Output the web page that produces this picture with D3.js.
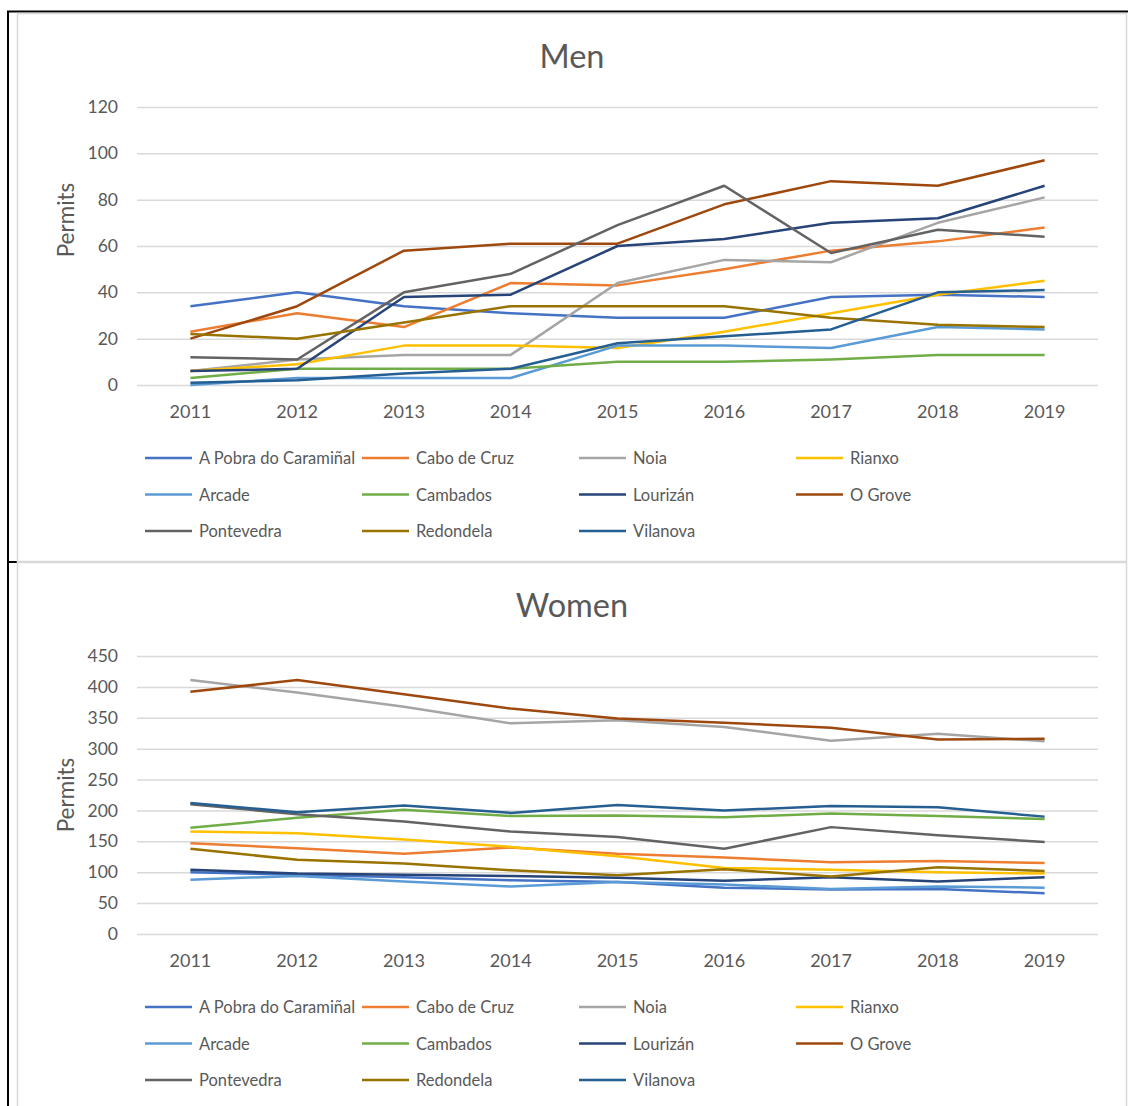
<!DOCTYPE html>
<html>
<head>
<meta charset="utf-8">
<script src="https://cdn.jsdelivr.net/npm/d3@7"></script>
<style>
  body { margin: 0; background: #fff; }
  svg { display: block; font-family: Lato, "Open Sans", sans-serif; }
</style>
</head>
<body>
<svg id="chart" width="1128" height="1106"></svg>
<script>
// data
const years = ['2011', '2012', '2013', '2014', '2015', '2016', '2017', '2018', '2019'];
const seriesNames = ['A Pobra do Caramiñal', 'Cabo de Cruz', 'Noia', 'Rianxo', 'Arcade', 'Cambados',
  'Lourizán', 'O Grove', 'Pontevedra', 'Redondela', 'Vilanova'];
const menTicks = [0, 20, 40, 60, 80, 100, 120];
const womenTicks = [0, 50, 100, 150, 200, 250, 300, 350, 400, 450];

// one row per series, same order as seriesNames
const menPermits = [
  [34, 40, 34, 31, 29, 29, 38, 39, 38],
  [23, 31, 25, 44, 43, 50, 58, 62, 68],
  [6, 11, 13, 13, 44, 54, 53, 70, 81],
  [6, 9, 17, 17, 16, 23, 31, 39, 45],
  [0, 3, 3, 3, 17, 17, 16, 25, 24],
  [3, 7, 7, 7, 10, 10, 11, 13, 13],
  [6, 7, 38, 39, 60, 63, 70, 72, 86],
  [20, 34, 58, 61, 61, 78, 88, 86, 97],
  [12, 11, 40, 48, 69, 86, 57, 67, 64],
  [22, 20, 27, 34, 34, 34, 29, 26, 25],
  [1, 2, 5, 7, 18, 21, 24, 40, 41]
];
const womenPermits = [
  [100, 96, 92, 87, 84, 75, 72, 73, 66],
  [147, 139, 130, 140, 130, 124, 116, 118, 115],
  [411, 391, 368, 341, 346, 335, 313, 324, 312],
  [166, 163, 153, 141, 126, 107, 104, 100, 98],
  [88, 94, 85, 77, 84, 80, 73, 77, 75],
  [172, 188, 201, 191, 192, 189, 195, 191, 186],
  [104, 98, 96, 94, 91, 86, 92, 85, 92],
  [392, 411, 388, 365, 349, 342, 334, 315, 316],
  [210, 194, 182, 166, 157, 138, 173, 160, 149],
  [138, 120, 114, 103, 95, 105, 93, 108, 102],
  [212, 197, 208, 196, 209, 200, 207, 205, 190]
];

const palette = ['#4472C4', '#ED7D31', '#A5A5A5', '#FFC000', '#5B9BD5', '#70AD47',
  '#264478', '#9E480E', '#636363', '#997300', '#255E91'];

const textColor = '#595959';
const gridColor = '#d9d9d9';

const svg = d3.select('#chart');

// outer table borders
svg.append('line').attr('x1', 8).attr('x2', 8).attr('y1', 11).attr('y2', 1106)
  .attr('stroke', '#000').attr('stroke-width', 2);
svg.append('line').attr('x1', 7).attr('x2', 1128).attr('y1', 11.5).attr('y2', 11.5)
  .attr('stroke', '#000').attr('stroke-width', 2);
svg.append('line').attr('x1', 8).attr('x2', 17).attr('y1', 562).attr('y2', 562)
  .attr('stroke', '#000').attr('stroke-width', 2);

function drawChart(top, height, title, ticks, values, labelY) {
  const g = svg.append('g').attr('transform', 'translate(0,' + top + ')');

  g.append('rect')
    .attr('x', 17.5).attr('y', 0.5)
    .attr('width', 1109).attr('height', height)
    .attr('fill', '#fff').attr('stroke', gridColor).attr('stroke-width', 1.5);

  const x = d3.scaleBand().domain(years).range([137, 1098]);
  const y = d3.scaleLinear().domain([0, ticks[ticks.length - 1]]).range([372, 94]);

  g.append('text')
    .attr('x', 572).attr('y', 42)
    .attr('text-anchor', 'middle').attr('dominant-baseline', 'central')
    .attr('font-size', 32.5).attr('fill', textColor)
    .text(title);

  const yAxis = g.append('g')
    .attr('transform', 'translate(137,0)')
    .call(d3.axisLeft(y).tickValues(ticks).tickSize(-961).tickPadding(19));
  yAxis.select('.domain').remove();
  yAxis.selectAll('line').attr('stroke', gridColor).attr('stroke-width', 1.5);
  yAxis.selectAll('text').attr('font-size', 17.5).attr('fill', textColor)
    .attr('font-family', 'Lato, sans-serif');

  const xAxis = g.append('g')
    .attr('transform', 'translate(0,' + y(0) + ')')
    .call(d3.axisBottom(x).tickSize(0).tickPadding(20));
  xAxis.select('.domain').remove();
  xAxis.selectAll('text').attr('font-size', 18).attr('fill', textColor)
    .attr('font-family', 'Lato, sans-serif');

  g.append('text')
    .attr('transform', 'translate(65,' + labelY + ') rotate(-90)')
    .attr('text-anchor', 'middle').attr('dominant-baseline', 'central')
    .attr('font-size', 22.5).attr('fill', textColor)
    .text('Permits');

  const line = d3.line()
    .x((d, i) => x(years[i]) + x.bandwidth() / 2)
    .y(d => y(d));

  g.selectAll('.series')
    .data(values)
    .enter()
    .append('path')
    .attr('class', 'series')
    .attr('d', line)
    .attr('fill', 'none')
    .attr('stroke', (d, i) => palette[i])
    .attr('stroke-width', 2.5)
    .attr('stroke-linejoin', 'round');

  const legend = g.selectAll('.legend')
    .data(seriesNames)
    .enter()
    .append('g')
    .attr('class', 'legend')
    .attr('transform', (d, i) => 'translate(' + (145 + (i % 4) * 217) + ',' + (445 + Math.floor(i / 4) * 36.5) + ')');

  legend.append('line')
    .attr('x1', 0).attr('x2', 47)
    .attr('stroke', (d, i) => palette[i])
    .attr('stroke-width', 2.5);

  legend.append('text')
    .attr('x', 54)
    .attr('dominant-baseline', 'central')
    .attr('font-size', 16.5).attr('fill', textColor)
    .text(d => d);
}

drawChart(13, 548, 'Men', menTicks, menPermits, 207);
drawChart(562, 560, 'Women', womenTicks, womenPermits, 233);
</script>
</body>
</html>
